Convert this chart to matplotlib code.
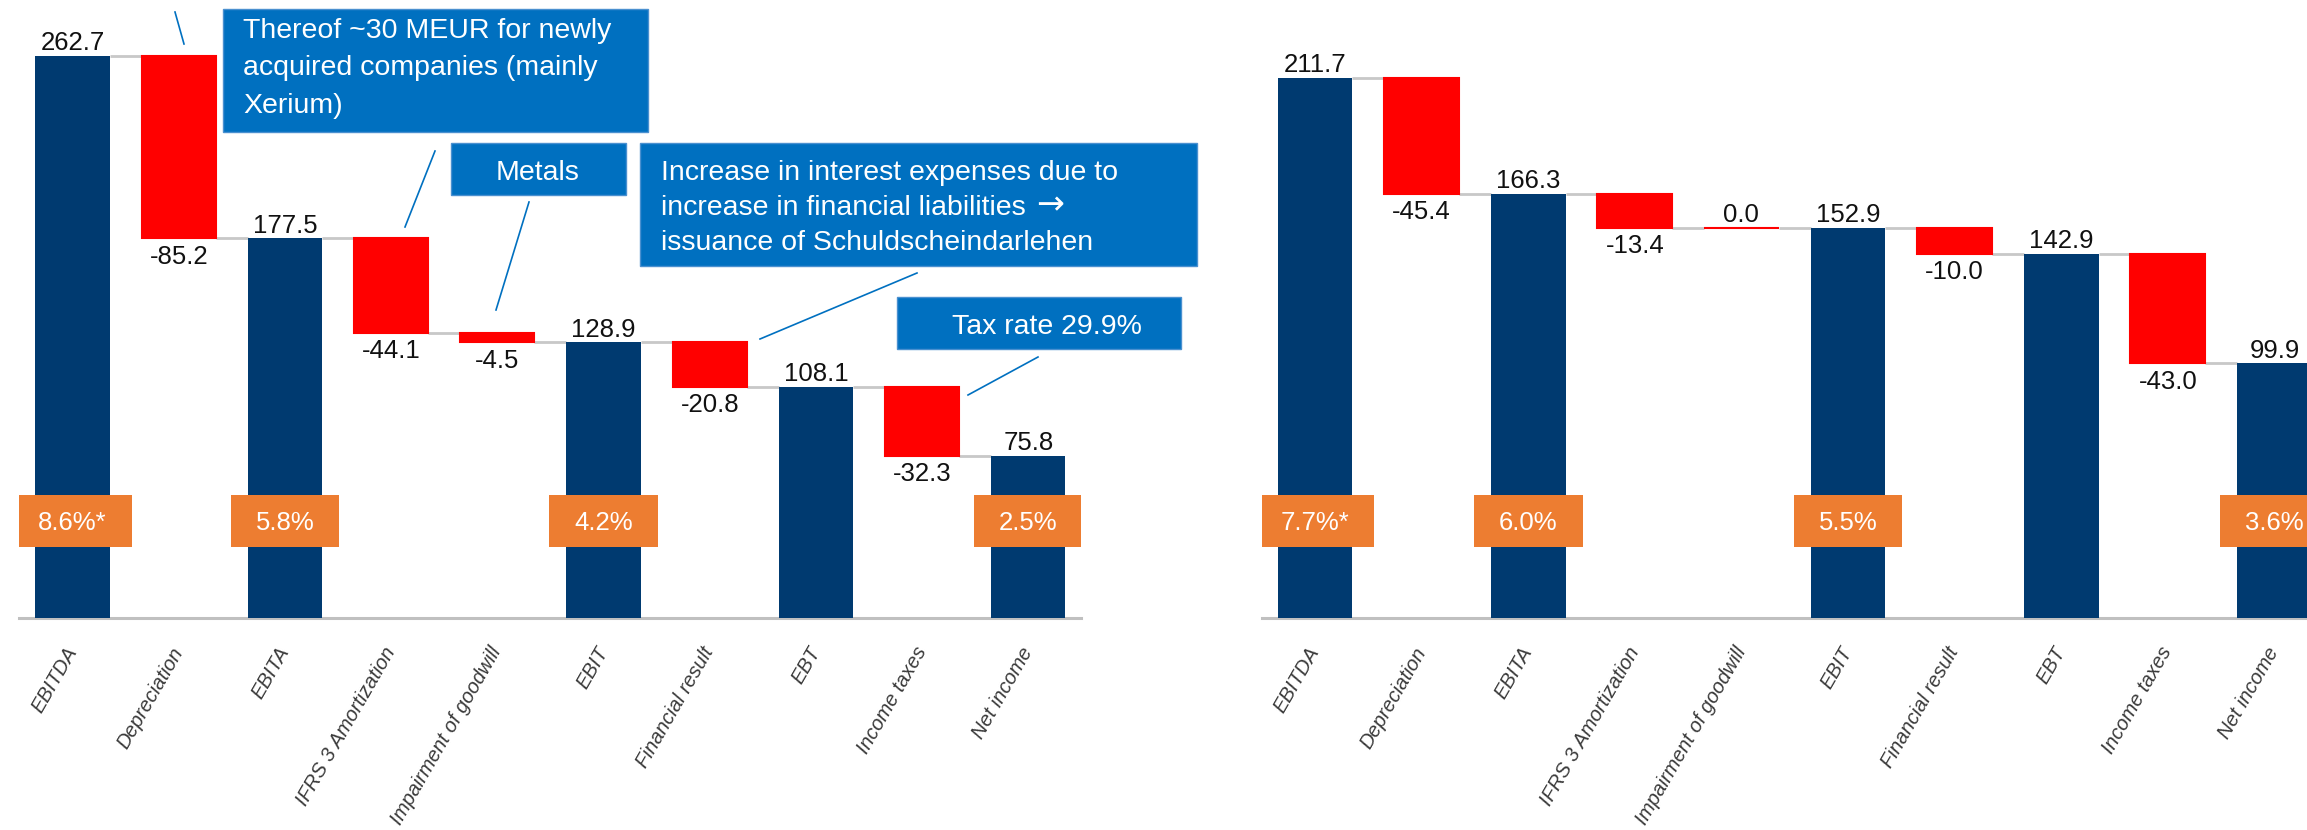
import matplotlib
matplotlib.use('Agg')
import matplotlib.pyplot as plt
from matplotlib.patches import Rectangle
from matplotlib.lines import Line2D

# ---------------- data ----------------
categories = ['EBITDA', 'Depreciation', 'EBITA', 'IFRS 3 Amortization',
              'Impairment of goodwill', 'EBIT', 'Financial result', 'EBT',
              'Income taxes', 'Net income']
is_total = [True, False, True, False, False, True, False, True, False, True]
values_left = [262.7, -85.2, 177.5, -44.1, -4.5, 128.9, -20.8, 108.1, -32.3, 75.8]
values_right = [211.7, -45.4, 166.3, -13.4, 0.0, 152.9, -10.0, 142.9, -43.0, 99.9]
margin_idx = [0, 2, 5, 9]
margins_left = ['8.6%*', '5.8%', '4.2%', '2.5%']
margins_right = ['7.7%*', '6.0%', '5.5%', '3.6%']
callout_lines = [['Thereof ~30 MEUR for newly', 'acquired companies (mainly', 'Xerium)'],
                 ['Metals'],
                 ['Increase in interest expenses due to',
                  'increase in financial liabilities \u2192',
                  'issuance of Schuldscheindarlehen'],
                 ['Tax rate 29.9%']]

# ---------------- style ----------------
NAVY = '#003A70'
RED = '#FF0000'
ORANGE = '#ED7D31'
BLUE = '#0070C0'
GREY = '#C8C8C8'
FONT = ['Liberation Sans', 'DejaVu Sans']
plt.rcParams['font.family'] = FONT

W, H = 2307, 830
fig = plt.figure(figsize=(W / 100, H / 100), dpi=100)
renderer = fig.canvas.get_renderer()


def rect(left, top, width, height):
    return [left / W, 1 - (top + height) / H, width / W, height / H]


def draw_panel(ax, values, margins, ppu):
    ax.set_xlim(-0.5, 9.5)
    ax.set_ylim(0, 618 / ppu)
    ax.set_facecolor('none')
    for s in ['top', 'left', 'right']:
        ax.spines[s].set_visible(False)
    ax.spines['bottom'].set_color('#C0C0C0')
    ax.spines['bottom'].set_linewidth(2.2)
    ax.set_yticks([])
    bw = 0.7
    running = 0.0
    for i, (v, tot) in enumerate(zip(values, is_total)):
        if tot:
            bottom, height = 0.0, v
            running = v
            ax.bar(i, height, bottom=bottom, width=bw, color=NAVY, linewidth=0, zorder=3)
        else:
            bottom, height = running + v, -v
            ax.bar(i, height, bottom=bottom, width=bw, color=RED,
                   edgecolor=RED, linewidth=1.5, zorder=3)
            running = running + v
        label = f'{v:.1f}'
        if v < 0:
            ax.annotate(label, (i, bottom), xytext=(0, -4.5), textcoords='offset points',
                        ha='center', va='top', fontsize=18.5, color='#111111', zorder=5)
        else:
            ax.annotate(label, (i, bottom + height), xytext=(0, 0.5),
                        textcoords='offset points', ha='center', va='bottom',
                        fontsize=18.5, color='#111111', zorder=5)
        if i < len(values) - 1:
            ax.plot([i + bw / 2, i + 1 - bw / 2], [running, running], color=GREY,
                    lw=2.0, zorder=2, solid_capstyle='butt')
    ax.set_xticks(range(len(categories)))
    ax.set_xticklabels(categories, rotation=60, ha='right', va='center',
                       rotation_mode='anchor', fontstyle='italic', fontsize=14.5,
                       color='#3A3A3A')
    ax.tick_params(axis='x', length=0, pad=22)
    # margin boxes
    unit_px = ax.get_window_extent(renderer).width / 10.0
    for idx, txt in zip(margin_idx, margins):
        t = ax.text(idx, 88 / ppu, txt, ha='center', va='baseline', fontsize=18.5,
                    color='white', zorder=6)
        tw = t.get_window_extent(renderer).width
        bwid = (tw + 50) / unit_px
        ax.add_patch(Rectangle((idx - bwid / 2, 71 / ppu), bwid, 52 / ppu,
                               facecolor=ORANGE, edgecolor='none', zorder=5))


ax1 = fig.add_axes(rect(19.4, 0, 1062, 618))
draw_panel(ax1, values_left, margins_left, 2.139)
ax2 = fig.add_axes(rect(1261.7, 0, 1066, 618))
draw_panel(ax2, values_right, margins_right, 2.55)


# ---------------- callouts (figure pixel layout) ----------------
def fx(x):
    return x / W


def fy(y):
    return 1 - y / H


# box: left, top, width, height, h-align, text x, first baseline, line step
boxes = [(223, 9, 425, 123, 'left', 243, 37.5, 37.6),
         (451, 143, 175, 52, 'center', 538, 180, 0),
         (640, 143, 557, 123, 'left', 661, 180, 35),
         (897, 297, 284, 52, 'center', 1047, 333.5, 0)]
ARROW = '\u2192'
for (bx, by, bwd, bht, ha, tx, base, step), lines in zip(boxes, callout_lines):
    fig.patches.append(Rectangle((fx(bx), fy(by + bht)), bwd / W, bht / H,
                                 transform=fig.transFigure, facecolor=BLUE,
                                 edgecolor='#4A90D0', linewidth=1, zorder=10))
    for k, line in enumerate(lines):
        yb = base + k * step
        if line.endswith(ARROW):
            body = line[:-1]
            t = fig.text(fx(tx), fy(yb), body, ha=ha, va='baseline', fontsize=20.5,
                         color='white', zorder=11)
            x_end = t.get_window_extent(renderer).x1
            fig.text(fx(x_end + 2), fy(yb - 1), ARROW, ha='left', va='baseline',
                     fontsize=24, family='DejaVu Sans', color='white', zorder=11)
        else:
            fig.text(fx(tx), fy(yb), line, ha=ha, va='baseline', fontsize=20.5,
                     color='white', zorder=11)

leaders = [((175, 12), (184, 44)), ((435, 151), (405, 227)), ((529, 202), (496, 310)),
           ((917, 273), (760, 339)), ((1038, 357), (968, 395))]
for (x0, y0), (x1, y1) in leaders:
    fig.lines.append(Line2D([fx(x0), fx(x1)], [fy(y0), fy(y1)], transform=fig.transFigure,
                            color=BLUE, lw=1.2, zorder=9))

fig.savefig('out.png', dpi=100, facecolor='white')
